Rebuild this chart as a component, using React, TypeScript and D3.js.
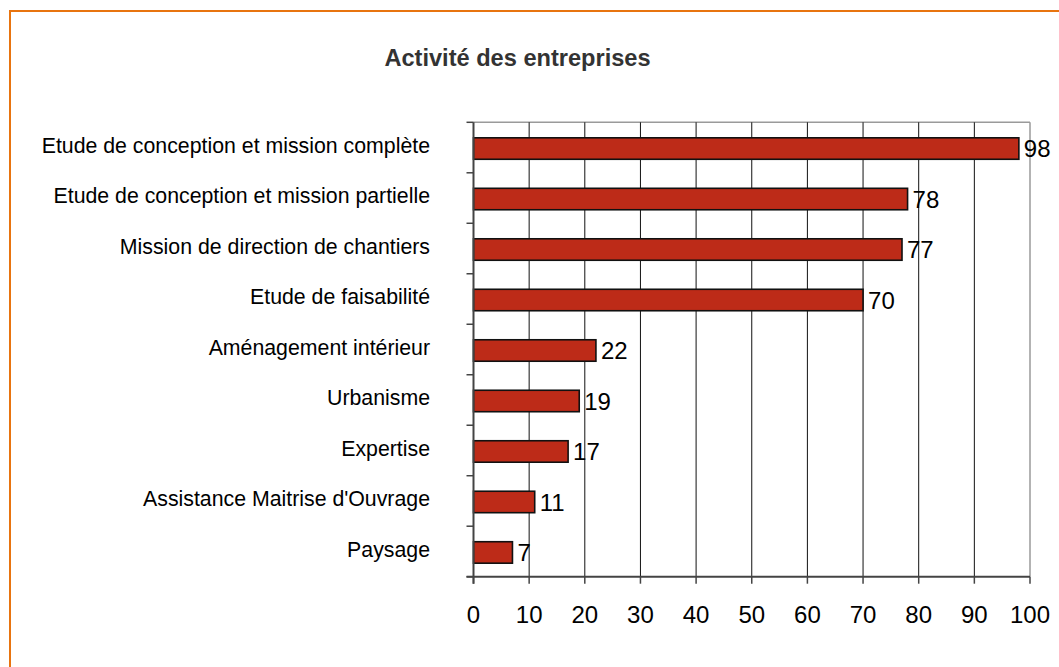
import React from 'react';
import * as d3 from 'd3';

// categories top -> bottom
const categories = [
  'Etude de conception et mission complète',
  'Etude de conception et mission partielle',
  'Mission de direction de chantiers',
  'Etude de faisabilité',
  'Aménagement intérieur',
  'Urbanisme',
  'Expertise',
  "Assistance Maitrise d'Ouvrage",
  'Paysage',
];
const values = [98, 78, 77, 70, 22, 19, 17, 11, 7];
const xTicks = [0, 10, 20, 30, 40, 50, 60, 70, 80, 90, 100];
const title = 'Activité des entreprises';

const W = 1059;
const H = 667;
const font = 'Arial, "Liberation Sans", Helvetica, sans-serif';

const App = () => {
  const x = d3.scaleLinear().domain([0, 100]).range([473.5, 1030]);
  // slots (no padding) for the category ticks, bars inside them
  const slot = d3.scaleBand<string>().domain(categories).range([122.3, 576.7]).padding(0);
  const bar = d3
    .scaleBand<string>()
    .domain(categories)
    .range([122.3, 576.7])
    .paddingInner(0.575)
    .paddingOuter(0.2875);

  const top = slot.range()[0];
  const bottom = slot.range()[1];
  const boundaries = categories.map((c) => slot(c) as number).concat([bottom]);

  return (
    <div style={{ position: 'absolute', left: 0, top: 0, width: W, height: H, overflow: 'hidden' }}>
      <svg width={W} height={H} style={{ display: 'block', background: '#fff' }}>
        {/* outer frame, cut off at right and bottom */}
        <rect x={10} y={11} width={W + 40} height={H + 40} fill="none" stroke="#E8740F" strokeWidth={2} />

        <text
          x={517.5}
          y={66}
          textAnchor="middle"
          fontFamily={font}
          fontWeight="bold"
          fontSize={23.6}
          fill="#333"
        >
          {title}
        </text>

        {/* plot frame top + right */}
        <line x1={x(0)} x2={x(100)} y1={top} y2={top} stroke="#9a9a9a" strokeWidth={1.5} />
        <line x1={x(100)} x2={x(100)} y1={top} y2={bottom} stroke="#9a9a9a" strokeWidth={1.5} />

        {/* vertical gridlines */}
        {xTicks
          .filter((t) => t > 0 && t < 100)
          .map((t) => (
            <line key={t} x1={x(t)} x2={x(t)} y1={top} y2={bottom} stroke="#111" strokeWidth={1} />
          ))}

        {/* bars */}
        {categories.map((c, i) => (
          <rect
            key={c}
            x={x(0)}
            y={(bar(c) as number) + 1}
            width={x(values[i]) - x(0)}
            height={bar.bandwidth()}
            fill="#BD2B18"
            stroke="#111"
            strokeWidth={1.6}
          />
        ))}

        {/* value labels */}
        {categories.map((c, i) => (
          <text
            key={c}
            x={x(values[i]) + 5}
            y={(bar(c) as number) + 1 + bar.bandwidth() / 2}
            dy="0.36em"
            fontFamily={font}
            fontSize={24}
            fill="#000"
          >
            {values[i]}
          </text>
        ))}

        {/* axes */}
        <line x1={x(0)} x2={x(0)} y1={top} y2={bottom + 7} stroke="#444" strokeWidth={2} />
        <line x1={x(0) - 7} x2={x(100)} y1={bottom} y2={bottom} stroke="#444" strokeWidth={2} />
        {boundaries.map((b, i) => (
          <line key={i} x1={x(0) - 7} x2={x(0)} y1={b} y2={b} stroke="#444" strokeWidth={1.5} />
        ))}
        {xTicks.map((t) => (
          <g key={t}>
            <line x1={x(t)} x2={x(t)} y1={bottom} y2={bottom + 7} stroke="#444" strokeWidth={1.5} />
            <text
              x={x(t)}
              y={623.3}
              textAnchor="middle"
              fontFamily={font}
              fontSize={24}
              fill="#000"
            >
              {t}
            </text>
          </g>
        ))}

        {/* category labels */}
        {categories.map((c) => (
          <text
            key={c}
            x={430}
            y={(slot(c) as number) + slot.bandwidth() / 2 - 2}
            dy="0.35em"
            textAnchor="end"
            fontFamily={font}
            fontSize={21.3}
            fill="#000"
          >
            {c}
          </text>
        ))}
      </svg>
    </div>
  );
};

export default App;
